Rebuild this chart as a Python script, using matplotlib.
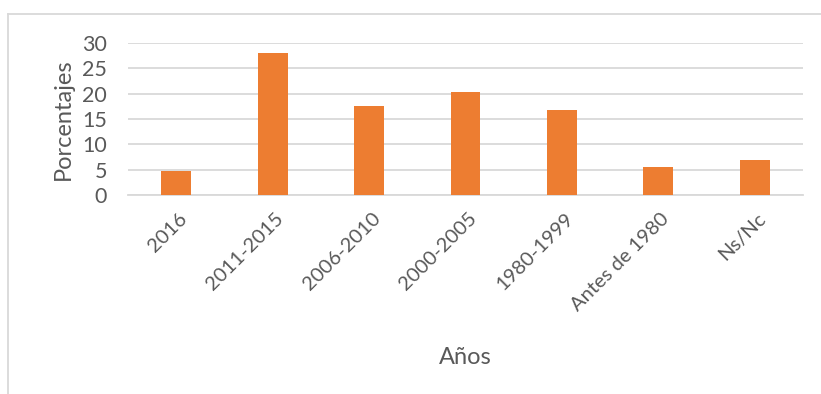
import matplotlib.pyplot as plt
from matplotlib.lines import Line2D
from matplotlib.transforms import ScaledTranslation

# periodos de construcción y porcentaje de viviendas
periodos = ["2016", "2011-2015", "2006-2010", "2000-2005", "1980-1999",
            "Antes de 1980", "Ns/Nc"]
porcentajes = [4.7, 28.1, 17.5, 20.3, 16.7, 5.6, 6.9]
y_ticks = [0, 5, 10, 15, 20, 25, 30]

bar_color = "#ED7D31"
grid_color = "#D9D9D9"
text_color = "#595959"

plt.rcParams["font.family"] = ["Lato", "DejaVu Sans"]

fig = plt.figure(figsize=(8.21, 3.94), dpi=100)
fig.patch.set_facecolor("white")
# plot area in pixels: x 128..803, y 43..195
ax = fig.add_axes([128 / 821, 1 - 195 / 394, 675 / 821, 152 / 394])

x = range(len(periodos))
ax.bar(x, porcentajes, width=0.31, color=bar_color, zorder=3)

ax.set_xlim(-0.5, len(periodos) - 0.5)
ax.set_ylim(0, 30)
ax.set_yticks(y_ticks)
ax.yaxis.grid(True, color=grid_color, linewidth=1.3, zorder=0)
ax.set_axisbelow(True)

for side in ["top", "right", "left"]:
    ax.spines[side].set_visible(False)
ax.spines["bottom"].set_color(grid_color)
ax.spines["bottom"].set_linewidth(1.3)

ax.tick_params(axis="y", length=0, pad=15, labelsize=15.5, labelcolor=text_color)
ax.tick_params(axis="x", length=0, pad=15, labelsize=14.5, labelcolor=text_color)
ax.set_xticks(list(x))
ax.set_xticklabels(periodos, rotation=45, ha="right", va="center",
                   rotation_mode="anchor")
# nudge the slanted labels a little to the right of each bar
shift = ScaledTranslation(6 / 72, 0, fig.dpi_scale_trans)
for lbl in ax.get_xticklabels():
    lbl.set_transform(lbl.get_transform() + shift)

ax.set_ylabel("Porcentajes", fontsize=17, color=text_color, labelpad=6)
ax.set_xlabel("Años", fontsize=17, color=text_color, labelpad=24)

# chart frame (top and left edges)
fig.add_artist(Line2D([7.5 / 821, 1], [1 - 14 / 394, 1 - 14 / 394],
                      color=grid_color, linewidth=1.3,
                      transform=fig.transFigure))
fig.add_artist(Line2D([7.5 / 821, 7.5 / 821], [0, 1 - 14 / 394],
                      color=grid_color, linewidth=1.3,
                      transform=fig.transFigure))

fig.savefig("out.png", dpi=100)
